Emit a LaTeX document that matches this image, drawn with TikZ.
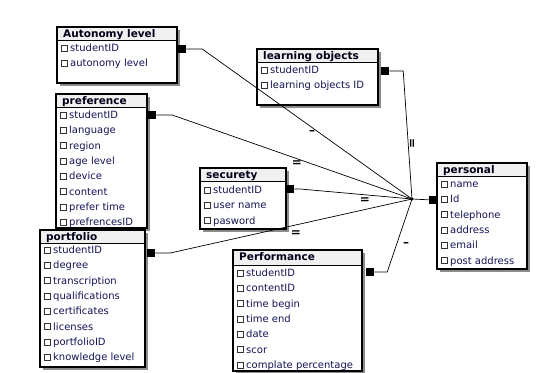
\documentclass[tikz,border=0pt]{standalone}
\usepackage{fontspec}
\setmainfont{DejaVu Sans}
\usetikzlibrary{calc,positioning}
\definecolor{fieldblue}{RGB}{20,20,85}
\definecolor{titlegray}{RGB}{240,240,240}
\tikzstyle{entity}=[fill=white,anchor=north west,inner sep=0pt,outer sep=0pt]
\tikzstyle{keysq}=[fill=black,minimum size=8pt,inner sep=0pt]
\tikzstyle{checkbox}=[draw=black!80,line width=0.45pt,minimum size=6pt,inner sep=0pt]
\tikzstyle{fieldtext}=[anchor=base west,inner sep=0pt,text=fieldblue,font=\fontsize{10}{12}\selectfont]
\tikzstyle{titletext}=[anchor=base west,inner sep=0pt,text=black!90!blue,font=\bfseries\fontsize{10.5}{12}\selectfont]
\tikzstyle{relation}=[line width=0.7pt]
\tikzstyle{card}=[font=\bfseries\fontsize{12}{12}\selectfont,inner sep=0pt]
\newcommand{\drawentity}[6][13]{ % [title height] name, x, y, width, height, title
\fill[black!45] (#3+2.5,#4+2.5) rectangle ++(#5,#6); % shadow
\node[entity,minimum width=#5pt,minimum height=#6pt] (#2) at (#3,#4) {};
\fill[titlegray] (#2.north west) rectangle ($(#2.north east)+(0,#1)$);
\draw[line width=0.6pt] ($(#2.north west)+(0,#1)$) -- ($(#2.north east)+(0,#1)$);
\draw[line width=1.1pt] (#2.north west) rectangle (#2.south east);
}
\newcommand{\drawtitle}[2]{
\node[titletext] (#1-title) at ($(#1.north west)+(6,10.5)$) {#2};
}
\newcommand{\drawfields}[3][21]{ % [first row] name, fields
\foreach \f [count=\i] in {#3} {
  \pgfmathsetmacro{\rowy}{#1+15.3*(\i-1)}
  \node[checkbox] (#2-box\i) at ($(#2.north west)+(7.5,\rowy)$) {};
  \node[fieldtext] (#2-f\i) at ($(#2.north west)+(13,\rowy+3.6)$) {\f};
}
}
\begin{document}
\begin{tikzpicture}[x=1pt,y=-1pt]
\useasboundingbox (0,0) rectangle (537,372);
\fill[white] (0,0) rectangle (537,372);
% tables
\drawentity{auto}{57}{27}{120}{56}
\drawtitle{auto}{Autonomy level}
\drawfields{auto}{studentID, autonomy level}
\drawentity{learn}{257}{49}{121}{56}
\drawtitle{learn}{learning objects}
\drawfields{learn}{studentID, learning objects ID}
\drawentity{pref}{56}{94}{91}{134}
\drawtitle{pref}{preference}
\drawfields{pref}{studentID, language, region, age level, device, content, prefer time, prefrencesID}
\drawentity{secur}{200}{168}{86}{61}
\drawtitle{secur}{securety}
\drawfields[22]{secur}{studentID, user name, pasword}
\drawentity{pers}{437}{163}{90}{106}
\drawtitle{pers}{personal}
\drawfields{pers}{name, Id, telephone, address, email, post address}
\drawentity{portf}{40}{230}{105}{137}
\drawtitle{portf}{portfolio}
\drawfields[20]{portf}{studentID, degree, transcription, qualifications, certificates, licenses, portfolioID, knowledge level}
\drawentity[15]{perf}{233}{250}{129}{121}
\drawtitle{perf}{Performance}
\drawfields[23]{perf}{studentID, contentID, time begin, time end, date, scor, complate percentage}
% key squares
\node[keysq,anchor=west] (auto-key) at ($(auto.north east)+(1,22)$) {};
\node[keysq,anchor=west] (learn-key) at ($(learn.north east)+(3,22)$) {};
\node[keysq,anchor=west] (pref-key) at ($(pref.north east)+(1,21)$) {};
\node[keysq,anchor=west] (secur-key) at ($(secur.north east)+(0,21)$) {};
\node[keysq,anchor=west] (portf-key) at ($(portf.north east)+(2,23)$) {};
\node[keysq,anchor=west] (perf-key) at ($(perf.north east)+(4,22)$) {};
\node[keysq,anchor=east] (pers-key) at ($(pers.north west)+(0,37)$) {};
% relations
\coordinate (hub) at (412,199);
\draw[relation] (auto-key) -- ++(20,0) -- (hub);
\draw[relation] (learn-key) -- ++(18,0) -- (hub);
\draw[relation] (pref-key) -- ++(20,0) -- (hub);
\draw[relation] (secur-key) -- ++(10,0) -- (hub);
\draw[relation] (portf-key) -- ++(19,0) -- (hub);
\draw[relation] (perf-key) -- ++(17,0) -- (hub);
\draw[relation] (hub) -- (pers-key);
\fill (hub) circle (1.6);
% labels
\node[card] (auto-card) at (312,132) {--};
\node[card] (pref-card) at (297,164) {=};
\node[card] (secur-card) at (365,201) {=};
\node[card] (portf-card) at (296,234) {=};
\node[card,rotate=90] (learn-card) at (413,143) {=};
\node[card] (perf-card) at (406,244) {--};
\end{tikzpicture}
\end{document}
